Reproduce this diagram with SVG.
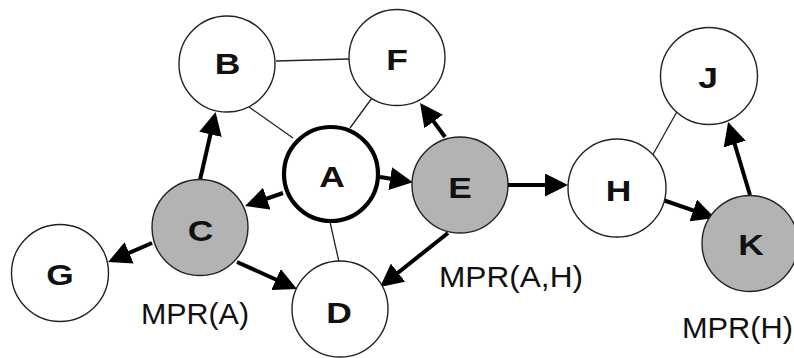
<svg xmlns="http://www.w3.org/2000/svg" width="794" height="358" viewBox="0 0 794 358">
  <defs>
    <marker id="head" markerUnits="userSpaceOnUse" markerWidth="23" markerHeight="23" refX="15" refY="11.5" orient="auto" viewBox="0 0 23 23">
      <path d="M0,0 L23,11.5 L0,23 Z" fill="#000"/>
    </marker>
    <style>
      .node { fill: #fff; stroke: #222; stroke-width: 1.4; }
      .mpr { fill: #b3b3b3; }
      .src { stroke: #000; stroke-width: 4.2; }
      .lbl { font-family: "Liberation Sans", Arial, sans-serif; font-weight: bold; font-size: 30px; fill: #111; text-anchor: middle; }
      .tag { font-family: "Liberation Sans", Arial, sans-serif; font-size: 29px; fill: #111; }
      .link { stroke: #222; stroke-width: 1.3; fill: none; }
      .arrow { stroke: #000; stroke-width: 4; fill: none; marker-end: url(#head); }
    </style>
  </defs>
  <rect width="794" height="358" fill="#fff"/>

  <!-- connectors: plain links and forwarding arrows -->
  <g id="connectors">
    <line class="link" x1="276" y1="61" x2="349" y2="59"/>
    <line class="link" x1="249" y1="107" x2="293" y2="138"/>
    <line class="link" x1="372" y1="98" x2="350" y2="128"/>
    <line class="link" x1="330" y1="222" x2="339" y2="262"/>
    <line class="link" x1="651" y1="158" x2="679" y2="108"/>

    <line class="arrow" x1="200" y1="180" x2="213.8" y2="119.8"/>
    <line class="arrow" x1="283" y1="193" x2="252.6" y2="203.5"/>
    <line class="arrow" x1="380" y1="177" x2="405" y2="181"/>
    <line class="arrow" x1="152" y1="243" x2="115.4" y2="258.8"/>
    <line class="arrow" x1="237" y1="262" x2="289.7" y2="285.7"/>
    <line class="arrow" x1="448" y1="233" x2="386.3" y2="282"/>
    <line class="arrow" x1="445" y1="137" x2="424.8" y2="109.4"/>
    <line class="arrow" x1="508" y1="185" x2="560" y2="185"/>
    <line class="arrow" x1="663" y1="200" x2="707.4" y2="215.4"/>
    <line class="arrow" x1="750" y1="195" x2="730.4" y2="129.7"/>
  </g>

  <!-- node letters are drawn slightly widened via textLength -->
  <g id="node-B">
    <circle class="node" cx="227" cy="64" r="48"/>
    <text class="lbl" x="227.5" y="74" textLength="25.6" lengthAdjust="spacingAndGlyphs">B</text>
  </g>
  <g id="node-F">
    <circle class="node" cx="397" cy="57.5" r="48"/>
    <text class="lbl" x="397" y="70" textLength="21.6" lengthAdjust="spacingAndGlyphs">F</text>
  </g>
  <g id="node-A">
    <circle class="node src" cx="331" cy="174" r="47"/>
    <text class="lbl" x="332" y="187" textLength="25.6" lengthAdjust="spacingAndGlyphs">A</text>
  </g>
  <g id="node-E">
    <circle class="node mpr" cx="460" cy="185" r="48"/>
    <text class="lbl" x="460" y="198" textLength="23.6" lengthAdjust="spacingAndGlyphs">E</text>
  </g>
  <g id="node-C">
    <circle class="node mpr" cx="200" cy="227.5" r="48"/>
    <text class="lbl" x="200.5" y="241" textLength="25.6" lengthAdjust="spacingAndGlyphs">C</text>
  </g>
  <g id="node-G">
    <circle class="node" cx="60" cy="273" r="48.5"/>
    <text class="lbl" x="60" y="285" textLength="27.5" lengthAdjust="spacingAndGlyphs">G</text>
  </g>
  <g id="node-D">
    <circle class="node" cx="340" cy="309" r="48"/>
    <text class="lbl" x="339" y="323" textLength="25.6" lengthAdjust="spacingAndGlyphs">D</text>
  </g>
  <g id="node-H">
    <circle class="node" cx="617" cy="188" r="49"/>
    <text class="lbl" x="618.5" y="201" textLength="25.6" lengthAdjust="spacingAndGlyphs">H</text>
  </g>
  <g id="node-J">
    <circle class="node" cx="709" cy="76" r="48.5"/>
    <text class="lbl" x="708" y="88" textLength="19.7" lengthAdjust="spacingAndGlyphs">J</text>
  </g>
  <g id="node-K">
    <circle class="node mpr" cx="750" cy="243.5" r="48"/>
    <text class="lbl" x="751" y="255" textLength="25.6" lengthAdjust="spacingAndGlyphs">K</text>
  </g>

  <g id="mpr-labels">
    <text class="tag" x="141" y="324" textLength="108" lengthAdjust="spacingAndGlyphs">MPR(A)</text>
    <text class="tag" x="439" y="287" textLength="144" lengthAdjust="spacingAndGlyphs">MPR(A,H)</text>
    <text class="tag" x="682" y="338" textLength="111" lengthAdjust="spacingAndGlyphs">MPR(H)</text>
  </g>
</svg>
